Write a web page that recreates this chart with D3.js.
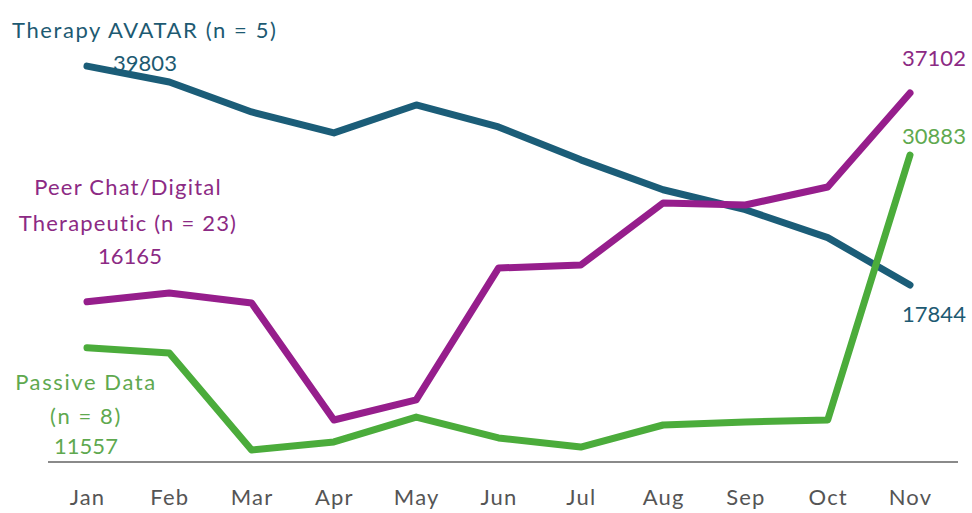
<!DOCTYPE html>
<html><head><meta charset="utf-8">
<script src="https://cdn.jsdelivr.net/npm/d3@7"></script>
<style>
html,body{margin:0;padding:0;background:#fff;}
svg{display:block;font-family:Lato,"Open Sans",sans-serif;}
</style></head>
<body><svg id="c" width="972" height="513"></svg>
<script>
const months = ["Jan","Feb","Mar","Apr","May","Jun","Jul","Aug","Sep","Oct","Nov"];
const avatar  = [39803,38200,35200,33100,35900,33700,30400,27400,25400,22600,17844];
const peer    = [16165,17050,16040,4310,6320,19550,19850,26070,25870,27680,37102];
const passive = [11557,11030,1300,2110,4610,2510,1600,3810,4110,4310,30883];

const svg = d3.select("#c");
const x = d3.scalePoint().domain(months).range([87, 910]);
const y = d3.scaleLinear().domain([0, 40000]).range([463, 64.1]);

// baseline axis
const axis = d3.axisBottom(x).tickSize(0).tickPadding(27);
const gA = svg.append("g").attr("transform","translate(0,462)").call(axis);
gA.select(".domain").remove();
gA.append("line").attr("x1",48).attr("x2",958).attr("y1",0).attr("y2",0)
  .attr("stroke","#8a8a8a").attr("stroke-width",2);
gA.selectAll(".tick text").attr("font-size",22).attr("fill","#555")
  .attr("letter-spacing",1.2)
  .attr("font-family","Lato,'Open Sans',sans-serif");

const series = [
  {vals: avatar, color:"#1b5d78"},
  {vals: peer, color:"#961e8c"},
  {vals: passive, color:"#4bac3b"}
];
const line = d3.line().x((d,i)=>x(months[i])).y(d=>y(d));
svg.selectAll("path.s").data(series).enter().append("path").attr("class","s")
  .attr("d", d=>line(d.vals)).attr("fill","none").attr("stroke",d=>d.color)
  .attr("stroke-width",7).attr("stroke-linejoin","round").attr("stroke-linecap","round");

function txt(t, xx, yy, col, anchor, ls){
  svg.append("text").attr("x",xx).attr("y",yy).attr("fill",col)
    .attr("font-size",22).attr("text-anchor",anchor||"middle")
    .attr("letter-spacing", ls||0)
    .attr("dominant-baseline","central").text(t);
}
const cA="#1d5a72", cP="#8c2a84", cG="#5fa94f";
txt("Therapy AVATAR (n = 5)", 12, 29, cA, "start", 1.6);
txt(String(avatar[0]), 145, 62, cA);
txt("Peer Chat/Digital", 128, 186, cP, "middle", 1.2);
txt("Therapeutic  (n = 23)", 128, 222, cP, "middle", 1.2);
txt(String(peer[0]), 130, 255, cP);
txt("Passive Data", 86, 381, cG, "middle", 1.6);
txt("(n = 8)", 86, 415, cG, "middle", 1.6);
txt(String(passive[0]), 86, 445, cG);
txt(String(peer[10]), 934, 57, cP);
txt(String(passive[10]), 934, 135, cG);
txt(String(avatar[10]), 934, 313, cA);
</script></body></html>
